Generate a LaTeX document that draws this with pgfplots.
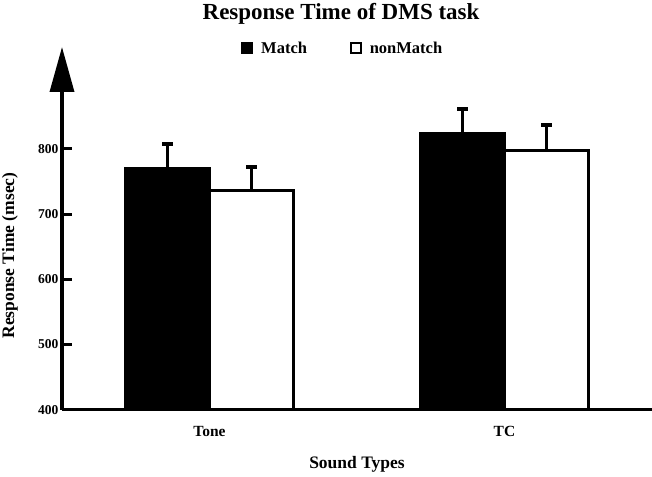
\documentclass[border=0pt]{standalone}
\usepackage{fontspec}
\setmainfont{Liberation Serif}
\usepackage{pgfplots}
\pgfplotsset{compat=1.18}
\usetikzlibrary{arrows.meta}
\begin{document}
\begin{tikzpicture}
\useasboundingbox (-62pt,-66.3pt) rectangle (590pt,409.7pt);
\begin{axis}[
  scale only axis, width=590pt, height=362.7pt,
  xmin=-0.5, xmax=1.5, ymin=400, ymax=956.5,
  ybar=0pt, bar width=84pt,
  axis x line=bottom, axis y line=left,
  x axis line style={-, line width=3.5pt},
  y axis line style={-{Triangle[width=24pt,length=45pt]}, line width=3.5pt},
  ytick={400,500,600,700,800},
  tick align=inside, major tick length=10pt,
  ytick style={line width=3pt, black},
  xtick={0,1}, xticklabels={Tone,TC},
  xtick style={draw=none},
  /pgf/number format/assume math mode=true,
  yticklabel style={font=\fontsize{13.5}{14}\selectfont\bfseries},
  xticklabel style={font=\fontsize{15.5}{16}\selectfont\bfseries, yshift=-13pt},
  xlabel={Sound Types},
  xlabel style={at={([yshift=-55pt]axis description cs:0.5,0)}, anchor=center, font=\fontsize{17.5}{18}\selectfont\bfseries},
  ylabel={Response Time (msec)},
  ylabel style={at={([xshift=-52pt]axis description cs:0,0.425)}, anchor=center, font=\fontsize{17.5}{18}\selectfont\bfseries},
  title={Response Time of DMS task},
  title style={at={(axis description cs:0.473,1.074)}, anchor=center, font=\fontsize{23}{26}\selectfont\bfseries},
  legend style={at={(axis description cs:0.476,0.997)}, anchor=center, draw=none, fill=none,
    font=\fontsize{16.5}{18}\selectfont\bfseries,
    /tikz/every even column/.append style={column sep=41pt}},
  legend columns=2,
  legend image code/.code={\draw[#1, line width=1.5pt] (0pt,-5pt) rectangle (10pt,5pt); \path[draw=none, fill=none] (0pt,0pt) -- (17pt,0pt);},
]
\addplot[fill=black, draw=black, line width=3pt,
  error bars/.cd, y dir=plus, y explicit, error mark=|,
  error bar style={line width=3pt, black},
  error mark options={line width=3.5pt, mark size=5.5pt, black}]
  coordinates {(0,770) +- (0,38) (1,824) +- (0,37)};
\addlegendentry{Match}
\addplot[fill=white, draw=black, line width=3pt,
  error bars/.cd, y dir=plus, y explicit, error mark=|,
  error bar style={line width=3pt, black},
  error mark options={line width=3.5pt, mark size=5.5pt, black}]
  coordinates {(0,736) +- (0,36) (1,798) +- (0,39)};
\addlegendentry{nonMatch}
\end{axis}
\end{tikzpicture}
\end{document}
